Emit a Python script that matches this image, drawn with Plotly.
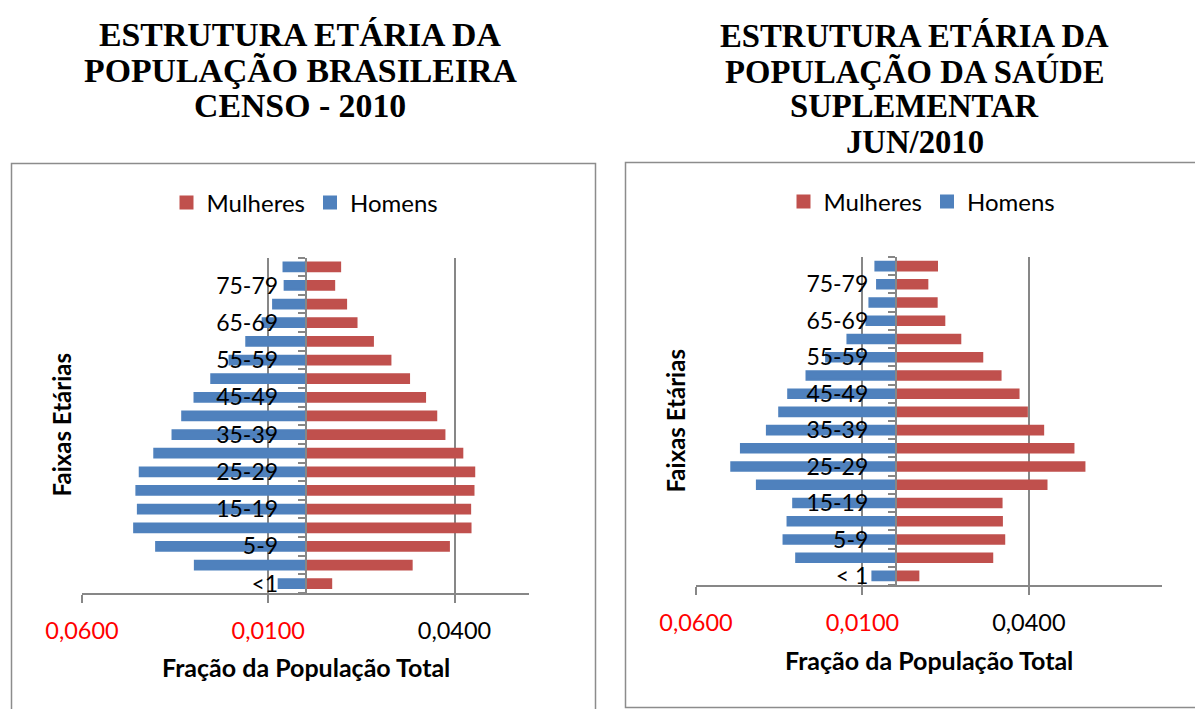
import plotly.graph_objects as go

# ---------------- data ----------------
faixas = ["<1", "1-4", "5-9", "10-14", "15-19", "20-24", "25-29", "30-34", "35-39",
          "40-44", "45-49", "50-54", "55-59", "60-64", "65-69", "70-74", "75-79", "80+"]
rotulos_censo = ["<1", "", "5-9", "", "15-19", "", "25-29", "", "35-39",
                 "", "45-49", "", "55-59", "", "65-69", "", "75-79", ""]
rotulos_ss = ["< 1", "", "5-9", "", "15-19", "", "25-29", "", "35-39",
              "", "45-49", "", "55-59", "", "65-69", "", "75-79", ""]

# Censo 2010 (fraction of total population), from <1 up to 80+
censo_mulheres = [0.0069, 0.0285, 0.0385, 0.0443, 0.0442, 0.0451, 0.0453, 0.0421, 0.0373,
                  0.0351, 0.0321, 0.0278, 0.0228, 0.0181, 0.0137, 0.0109, 0.0077, 0.0093]
censo_homens = [0.0072, 0.0297, 0.0401, 0.0460, 0.0450, 0.0454, 0.0445, 0.0406, 0.0357,
                0.0331, 0.0298, 0.0253, 0.0204, 0.0159, 0.0115, 0.0087, 0.0056, 0.0059]

# Saude Suplementar jun/2010
ss_mulheres = [0.0068, 0.0290, 0.0326, 0.0319, 0.0318, 0.0453, 0.0567, 0.0534, 0.0443,
               0.0394, 0.0369, 0.0315, 0.0260, 0.0194, 0.0146, 0.0123, 0.0095, 0.0124]
ss_homens = [0.0070, 0.0299, 0.0337, 0.0325, 0.0308, 0.0417, 0.0494, 0.0465, 0.0387,
             0.0350, 0.0323, 0.0268, 0.0209, 0.0145, 0.0088, 0.0079, 0.0056, 0.0061]

x_ticks = [-0.06, -0.01, 0.04]
x_ticktext = ['<span style="color:#FF0000">0,0600</span>',
              '<span style="color:#FF0000">0,0100</span>',
              '0,0400']

titulo_censo = ["ESTRUTURA ETÁRIA DA", "POPULAÇÃO BRASILEIRA", "CENSO - 2010"]
titulo_ss = ["ESTRUTURA ETÁRIA DA", "POPULAÇÃO DA SAÚDE", "SUPLEMENTAR", "JUN/2010"]

# ---------------- style ----------------
OFF = 8                      # default page body margin
W, H = 1203 - OFF, 709 - OFF
RED = "#C0504D"
BLUE = "#4F81BD"
GRAY = "#878787"
FONT = "Lato"


def px(x):
    return (x - OFF) / W


def py(y):
    return 1 - (y - OFF) / H


ypos = list(range(len(faixas)))

fig = go.Figure()


def bar(values, name, color, xa, ya, leg, sign):
    return go.Bar(y=ypos, x=[sign * v for v in values], orientation="h", name=name,
                  marker=dict(color=color, line=dict(width=2, color=color)),
                  xaxis=xa, yaxis=ya, legend=leg)


# left chart
fig.add_trace(bar(censo_mulheres, "Mulheres", RED, "x", "y", "legend", 1))
fig.add_trace(bar(censo_homens, "Homens", BLUE, "x", "y", "legend", -1))
# right chart
fig.add_trace(bar(ss_mulheres, "Mulheres", RED, "x2", "y2", "legend2", 1))
fig.add_trace(bar(ss_homens, "Homens", BLUE, "x2", "y2", "legend2", -1))

boundaries = [i - 0.5 for i in range(len(faixas) + 1)]


def xaxis_cfg(domain, rng, anchor):
    return dict(domain=domain, range=rng, anchor=anchor, automargin=False,
                tickmode="array", tickvals=x_ticks, ticktext=x_ticktext,
                showgrid=True, gridcolor=GRAY, gridwidth=1.6,
                zeroline=False, showline=True, linecolor=GRAY, linewidth=1.6,
                ticks="outside", ticklen=8, tickwidth=1.6, tickcolor=GRAY,
                ticklabelstandoff=8,
                tickfont=dict(family=FONT, size=23.5, color="#000000"),
                fixedrange=True)


def yaxis_cfg(domain, pos, labels):
    return dict(domain=domain, range=[-0.5, len(faixas) - 0.5], anchor="free", position=pos,
                automargin=False,
                tickmode="array", tickvals=ypos, ticktext=labels,
                showgrid=False, zeroline=False,
                showline=True, linecolor=GRAY, linewidth=1.6,
                ticks="", ticklabelstandoff=22,
                minor=dict(tickmode="array", tickvals=boundaries, ticks="outside",
                           ticklen=7, tickwidth=1.6, tickcolor=GRAY, showgrid=False),
                tickfont=dict(family=FONT, size=23, color="#000000"),
                fixedrange=True)


annotations = []
for i, line in enumerate(titulo_censo):
    annotations.append(dict(text=f"<b>{line}</b>", x=px(300), y=py(35 + 35.3 * i),
                            xref="paper", yref="paper", showarrow=False,
                            xanchor="center", yanchor="middle",
                            font=dict(family="Liberation Serif", size=33.8, color="#000")))
for i, line in enumerate(titulo_ss):
    annotations.append(dict(text=f"<b>{line}</b>", x=px(915), y=py(36 + 35.2 * i),
                            xref="paper", yref="paper", showarrow=False,
                            xanchor="center", yanchor="middle",
                            font=dict(family="Liberation Serif", size=32.7, color="#000")))
# axis titles
for cx, cy in [(305.5, 667), (929, 660)]:
    annotations.append(dict(text="<b>Fração da População Total</b>", x=px(cx), y=py(cy),
                            xref="paper", yref="paper", showarrow=False,
                            xanchor="center", yanchor="middle",
                            font=dict(family=FONT, size=25, color="#000")))
for cx, cy in [(61, 424.5), (676, 420.6)]:
    annotations.append(dict(text="<b>Faixas Etárias</b>", x=px(cx), y=py(cy), textangle=-90,
                            xref="paper", yref="paper", showarrow=False,
                            xanchor="center", yanchor="middle",
                            font=dict(family=FONT, size=24, color="#000")))

shapes = [
    dict(type="rect", xref="paper", yref="paper", x0=px(11.5), x1=px(595.5),
         y0=py(720), y1=py(163.5), line=dict(color="#8C8C8C", width=1.5)),
    dict(type="rect", xref="paper", yref="paper", x0=px(625.5), x1=px(1201.5),
         y0=py(707.5), y1=py(162.5), line=dict(color="#8C8C8C", width=1.5)),
]

legend_common = dict(orientation="h", xanchor="center", yanchor="middle",
                     font=dict(family=FONT, size=24, color="#000"),
                     bgcolor="rgba(0,0,0,0)", traceorder="normal")

fig.update_layout(
    width=W, height=H,
    margin=dict(l=0, r=0, t=0, b=0, autoexpand=False),
    paper_bgcolor="white", plot_bgcolor="white",
    barmode="overlay", bargap=0.53,
    showlegend=True,
    xaxis=xaxis_cfg([px(82), px(529)], [-0.06, 0.06], "y"),
    yaxis=yaxis_cfg([py(593), py(257.5)], px(305.5), rotulos_censo),
    xaxis2=xaxis_cfg([px(696), px(1162)], [-0.06, 0.08], "y2"),
    yaxis2=yaxis_cfg([py(585), py(257)], px(895.7), rotulos_ss),
    legend=dict(x=px(305), y=py(203), **legend_common),
    legend2=dict(x=px(922), y=py(202), **legend_common),
    annotations=annotations,
    shapes=shapes,
    font=dict(family=FONT),
)

fig.write_html("out.html")
